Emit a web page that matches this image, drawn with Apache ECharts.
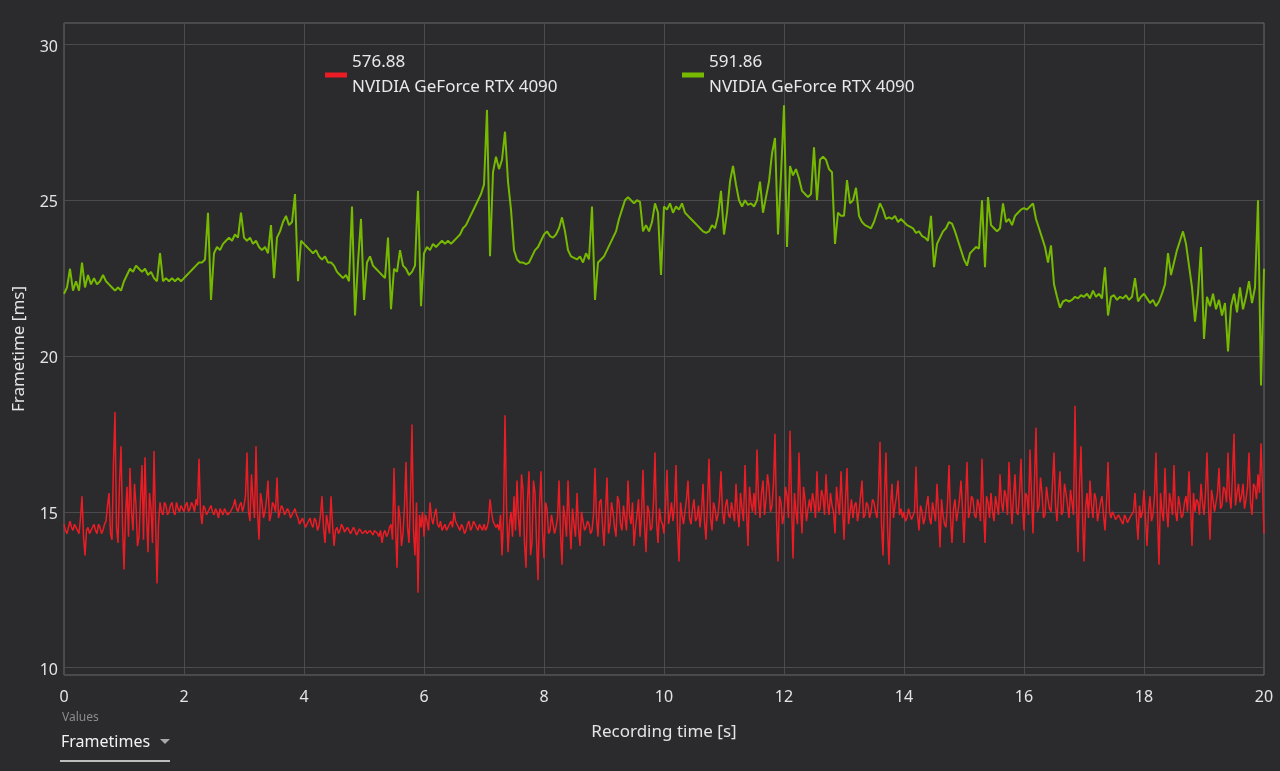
<!DOCTYPE html>
<html>
<head>
<meta charset="utf-8">
<title>Frametimes</title>
<script src="https://cdn.jsdelivr.net/npm/echarts@6.0.0/dist/echarts.min.js"></script>
<style>
  html, body { margin: 0; padding: 0; background: #2b2b2e; }
  #chart { width: 1280px; height: 771px; }
</style>
</head>
<body>
<div id="chart"></div>
<script>
// legend: driver version on top, card name below
const driverVersions = ['576.88', '591.86']
const gpuName = 'NVIDIA GeForce RTX 4090'
const seriesColors = ['#ec1c24', '#76b900']

// sample spacing in seconds of recording time
const timeSteps = [0.025, 0.05]

// frametimes in ms, driver 576.88 (red)
const frametimesA = [
  14.6, 14.4, 14.3, 14.5, 14.7, 14.5, 14.4, 14.6, 14.5, 14.4, 14.3, 14.8, 15.5, 14.2, 13.6, 14.4, 14.5, 14.3, 14.4, 14.5,
  14.6, 14.4, 14.3, 14.6, 14.5, 14.3, 14.4, 14.6, 14.7, 15.2, 15.6, 14.3, 14.1, 16.6, 18.2, 14.5, 14.0, 15.9, 17.1, 14.6,
  13.15, 14.9, 15.8, 14.2, 16.4, 15.0, 14.4, 15.9, 15.2, 13.9, 14.2, 15.4, 16.5, 14.1, 16.75, 14.9, 13.7, 15.6, 15.1, 14.0,
  16.95, 14.8, 12.7, 14.6, 15.3, 15.0, 14.9, 15.3, 15.2, 14.9, 15.0, 15.2, 15.3, 15.0, 14.9, 15.3, 15.1, 15.0, 15.2, 15.1,
  15.0, 15.2, 15.3, 15.0, 15.1, 15.3, 15.2, 15.0, 15.4, 15.2, 16.7, 15.0, 14.6, 15.2, 15.1, 14.9, 15.0, 15.1, 15.2, 15.0,
  14.9, 15.1, 15.0, 14.8, 15.1, 15.0, 14.9, 15.1, 15.0, 14.9, 14.85, 15.0, 15.1, 15.2, 15.4, 15.1, 15.0, 15.2, 15.3, 15.0,
  15.2, 15.5, 16.9, 15.0, 14.7, 16.2, 15.4, 14.8, 17.1, 15.0, 14.1, 15.6, 15.3, 14.8, 15.0, 15.4, 16.0, 14.7, 14.9, 15.3,
  15.2, 15.0, 16.1, 14.8, 15.0, 15.2, 15.1, 14.9, 14.9, 15.1, 15.0, 14.8, 14.85, 15.0, 15.1, 14.9, 14.8, 14.6, 14.7, 14.8,
  14.75, 14.5, 14.6, 14.7, 14.8, 14.6, 14.5, 14.8, 14.7, 14.4, 14.55, 14.9, 15.5, 14.5, 14.0, 14.9, 14.6, 14.3, 15.5, 14.6,
  13.9, 14.4, 14.5, 14.3, 14.4, 14.6, 14.5, 14.35, 14.3, 14.5, 14.45, 14.3, 14.35, 14.5, 14.4, 14.25, 14.3, 14.45, 14.4, 14.3,
  14.35, 14.4, 14.3, 14.25, 14.4, 14.35, 14.25, 14.4, 14.35, 14.3, 14.2, 14.4, 14.0, 14.3, 14.4, 14.2, 14.3, 14.5, 14.6, 14.1,
  16.4, 14.6, 13.2, 15.2, 14.8, 13.9, 14.3, 15.2, 16.6, 14.5, 14.0, 15.5, 17.8, 14.4, 13.6, 15.3, 12.4, 14.9, 14.5, 15.0,
  14.2, 14.9, 14.7, 14.4, 15.3, 14.8, 14.6, 14.9, 15.1, 14.6, 14.5, 14.7, 14.4, 14.5, 14.6, 14.4, 14.5, 14.6, 14.7, 14.5,
  15.0, 14.7, 14.6, 14.5, 14.4, 14.6, 14.5, 14.3, 14.4, 14.6, 14.7, 14.4, 14.5, 14.7, 14.6, 14.5, 14.4, 14.6, 14.5, 14.4,
  14.6, 14.4, 14.5, 14.7, 15.4, 15.0, 14.7, 14.6, 14.5, 14.6, 14.4, 14.9, 13.6, 14.8, 18.1, 15.2, 13.7, 14.6, 15.0, 14.2,
  15.5, 14.4, 16.0, 14.8, 14.2, 16.2, 15.7, 14.0, 13.2, 15.4, 16.3, 13.6, 14.0, 16.0, 15.6, 14.1, 12.8, 15.2, 16.3, 14.4,
  13.5, 15.3, 15.1, 14.3, 14.4, 14.9, 14.6, 14.3, 14.5, 14.8, 16.0, 14.3, 13.3, 15.2, 14.8, 14.2, 16.0, 14.7, 13.8, 15.1,
  14.6, 14.2, 15.6, 14.5, 13.9, 15.0, 14.7, 14.4, 14.5, 14.7, 14.6, 14.3, 14.4, 14.9, 16.4, 14.8, 14.2, 15.3, 15.4, 14.6,
  13.9, 15.0, 16.1, 14.3, 14.6, 15.3, 15.0, 14.5, 14.2, 15.5, 15.3, 14.6, 14.4, 15.2, 14.8, 14.4, 16.0, 14.9, 14.6, 15.3,
  13.9, 14.5, 14.9, 15.4, 14.2, 14.9, 16.35, 14.6, 13.7, 15.2, 15.0, 14.4, 14.5, 15.3, 16.9, 14.7, 14.0, 15.1, 14.7, 14.6,
  14.3, 15.2, 16.35, 14.6, 14.9, 15.3, 14.7, 15.2, 16.5, 14.5, 13.4, 15.3, 14.9, 14.6, 15.0, 15.4, 16.0, 14.8, 14.6, 15.1,
  15.4, 14.7, 14.8, 15.2, 14.5, 15.0, 15.9, 14.7, 14.1, 15.3, 16.7, 14.8, 14.4, 15.3, 15.1, 14.7, 14.9, 15.4, 16.3, 15.0,
  14.6, 15.2, 15.4, 14.9, 14.8, 15.3, 15.0, 14.7, 15.9, 15.0, 14.5, 15.6, 15.1, 14.7, 16.5, 15.0, 13.9, 15.8, 15.3, 15.0,
  15.6, 14.9, 17.0, 15.4, 14.8, 15.6, 16.0, 14.9, 15.4, 16.2, 15.8, 15.0, 15.2, 15.9, 17.5, 14.8, 13.4, 15.5, 15.3, 14.6,
  14.9, 15.8, 15.5, 14.8, 17.6, 15.4, 13.5, 15.6, 15.0, 14.6, 16.9, 15.2, 14.3, 15.8, 15.4, 14.7, 15.1, 15.4, 15.0, 15.6,
  15.3, 14.8, 16.3, 15.0, 15.1, 15.7, 15.5, 14.9, 16.2, 15.3, 14.9, 15.6, 15.2, 15.0, 14.3, 15.8, 15.3, 14.9, 16.3, 15.2,
  14.1, 15.4, 16.4, 14.6, 15.0, 15.4, 14.8, 15.2, 15.3, 14.7, 15.0, 15.5, 16.0, 14.8, 14.9, 15.3, 15.2, 14.8, 15.0, 15.4,
  15.3, 15.0, 14.8, 15.6, 17.25, 14.6, 13.6, 15.5, 16.9, 14.5, 13.3, 15.2, 15.9, 14.8, 15.2, 15.5, 16.0, 14.9, 15.1, 14.8,
  15.0, 14.7, 14.8, 15.1, 14.9, 14.75, 14.7, 15.0, 16.45, 14.9, 14.4, 15.2, 15.0, 14.6, 14.8, 15.2, 15.5, 14.8, 14.6, 15.3,
  15.0, 14.7, 15.9, 15.0, 13.85, 15.4, 14.9, 14.6, 14.5, 15.3, 16.5, 14.8, 14.0, 15.1, 15.4, 14.7, 15.0, 15.4, 16.0, 15.1,
  14.0, 15.3, 16.6, 14.8, 15.0, 15.5, 15.4, 14.9, 14.8, 15.4, 15.2, 14.7, 16.7, 15.1, 14.0, 15.5, 15.3, 14.8, 15.6, 15.0,
  14.7, 15.5, 15.2, 14.9, 16.2, 15.3, 15.0, 15.7, 15.5, 14.9, 16.6, 15.4, 14.6, 15.5, 16.2, 15.0, 14.9, 15.6, 16.7, 15.2,
  14.4, 15.6, 15.5, 14.9, 17.0, 15.5, 14.3, 16.0, 17.7, 15.0, 15.2, 16.1, 15.6, 14.8, 14.9, 15.8, 15.4, 15.1, 15.0, 15.9,
  16.9, 15.2, 14.7, 15.6, 16.3, 14.9, 15.0, 15.9, 15.6, 15.2, 14.8, 15.7, 15.3, 14.9, 18.4, 15.3, 13.7, 15.9, 17.1, 14.9,
  13.4, 15.1, 15.6, 14.8, 16.0, 15.2, 14.8, 15.6, 15.4, 14.7, 15.0, 15.3, 15.5, 14.9, 14.4, 15.3, 16.6, 15.0, 14.8, 15.0,
  14.9, 14.75, 14.7, 14.9, 14.85, 14.7, 14.6, 14.9, 14.8, 14.65, 14.7, 14.85, 14.9, 15.0, 15.6, 14.8, 14.1, 15.2, 14.8, 15.0,
  15.7, 14.8, 13.9, 15.0, 15.5, 14.7, 14.9, 15.5, 16.9, 14.9, 13.3, 15.6, 15.0, 14.7, 16.4, 15.1, 14.5, 15.6, 15.3, 14.9,
  16.5, 15.0, 14.7, 15.5, 15.2, 14.8, 14.9, 15.3, 15.5, 15.0, 16.3, 15.2, 13.9, 15.6, 15.0, 15.4, 15.3, 14.9, 15.9, 15.3,
  14.9, 15.6, 16.9, 15.2, 14.1, 15.7, 15.4, 15.0, 15.0, 15.6, 16.4, 15.1, 15.2, 15.8, 15.7, 15.3, 16.9, 15.5, 15.1, 16.2,
  17.5, 15.2, 15.6, 15.9, 15.3, 15.5, 15.9, 15.1, 15.4, 15.8, 16.9, 15.3, 14.9, 15.9, 15.8, 15.4, 16.2, 15.6, 17.2, 15.8,
  14.3
]

// frametimes in ms, driver 591.86 (green)
const frametimesB = [
  22.0, 22.2, 22.8, 22.1, 22.4, 22.1, 23.0, 22.2, 22.6, 22.3, 22.5, 22.3, 22.4, 22.6, 22.4, 22.3, 22.2, 22.1, 22.2, 22.1,
  22.4, 22.6, 22.8, 22.7, 22.9, 22.8, 22.7, 22.8, 22.6, 22.7, 22.5, 22.4, 23.3, 22.4, 22.5, 22.4, 22.5, 22.4, 22.5, 22.4,
  22.5, 22.6, 22.7, 22.8, 22.9, 23.0, 23.0, 23.1, 24.6, 21.8, 23.3, 23.5, 23.4, 23.6, 23.7, 23.8, 23.7, 23.9, 23.8, 24.6,
  23.8, 23.7, 23.8, 23.6, 23.7, 23.5, 23.4, 23.5, 23.3, 24.2, 22.5, 23.8, 24.0, 24.3, 24.5, 24.2, 24.3, 25.2, 22.4, 23.7,
  23.6, 23.5, 23.4, 23.3, 23.4, 23.2, 23.1, 23.2, 23.0, 23.0, 22.9, 22.7, 22.6, 22.5, 22.6, 22.4, 24.8, 21.3, 23.0, 24.4,
  21.8, 23.0, 23.2, 22.9, 22.8, 22.7, 22.6, 22.5, 23.8, 21.5, 22.8, 22.7, 23.4, 22.9, 22.8, 22.6, 22.7, 22.9, 25.3, 21.6,
  23.3, 23.5, 23.4, 23.6, 23.5, 23.6, 23.7, 23.6, 23.7, 23.6, 23.7, 23.8, 23.9, 24.1, 24.2, 24.4, 24.6, 24.8, 25.0, 25.2,
  25.5, 27.9, 23.2, 25.9, 26.4, 26.0, 26.3, 27.2, 25.6, 24.7, 23.4, 23.1, 23.0, 23.0, 22.95, 23.0, 23.2, 23.4, 23.5, 23.7,
  23.9, 24.0, 23.85, 23.8, 23.9, 24.1, 24.45, 24.0, 23.4, 23.2, 23.15, 23.1, 23.2, 23.0, 23.3, 23.1, 24.8, 21.8, 23.0, 23.1,
  23.2, 23.4, 23.6, 23.8, 24.0, 24.4, 24.7, 25.0, 25.1, 25.0, 24.9, 25.0, 24.95, 24.0, 24.2, 24.0, 24.3, 24.9, 24.6, 22.6,
  24.8, 24.7, 24.9, 24.6, 24.8, 24.7, 24.9, 24.6, 24.5, 24.4, 24.3, 24.2, 24.1, 24.0, 23.95, 24.0, 24.2, 24.1, 24.5, 25.3,
  23.9, 24.6, 25.6, 26.1, 25.5, 25.0, 24.8, 25.0, 24.85, 24.9, 24.8, 25.0, 25.6, 24.6, 25.1, 25.6, 26.5, 27.0, 23.9, 25.8,
  28.05, 23.5, 26.1, 25.8, 26.0, 25.7, 25.3, 25.2, 25.1, 25.2, 26.7, 25.0, 26.3, 26.4, 26.3, 26.0, 25.9, 23.6, 24.6, 24.5,
  24.5, 25.65, 24.9, 25.0, 25.4, 24.5, 24.3, 24.2, 24.15, 24.1, 24.3, 24.6, 24.9, 24.7, 24.4, 24.45, 24.4, 24.5, 24.3, 24.4,
  24.3, 24.2, 24.15, 24.1, 23.95, 24.0, 23.85, 23.8, 23.7, 24.5, 22.85, 23.6, 23.8, 24.0, 24.1, 24.3, 24.25, 24.0, 23.7, 23.4,
  23.1, 22.9, 23.3, 23.4, 23.5, 23.45, 25.0, 22.85, 25.1, 24.2, 24.1, 24.0, 24.1, 24.9, 24.3, 24.4, 24.2, 24.5, 24.6, 24.7,
  24.75, 24.7, 24.8, 24.9, 24.4, 24.1, 23.8, 23.5, 23.0, 23.55, 22.3, 21.9, 21.55, 21.75, 21.8, 21.75, 21.8, 21.9, 21.85, 21.95,
  21.9, 22.0, 21.85, 22.1, 21.9, 22.0, 21.85, 22.85, 21.3, 21.9, 21.95, 21.8, 21.9, 21.85, 21.95, 21.8, 21.9, 22.5, 21.75, 21.9,
  22.0, 21.85, 21.7, 21.8, 21.6, 21.75, 22.0, 22.3, 23.3, 22.6, 23.0, 23.4, 23.7, 24.0, 23.6, 22.9, 22.2, 21.1, 22.0, 23.5,
  20.55, 21.9, 21.6, 22.0, 21.5, 21.8, 21.3, 21.7, 20.15, 21.6, 22.0, 21.4, 22.2, 21.5, 21.9, 22.4, 21.7, 22.2, 25.0, 19.05,
  22.8
]

function toPoints(values, step) {
  return values.map((v, i) => [+(i * step).toFixed(3), v])
}

const font = 'Noto Sans'
const labelColor = '#e4e4e4'
const gridColor = '#4b4b4e'

const chart = echarts.init(document.getElementById('chart'))
chart.setOption({
  backgroundColor: '#2b2b2e',
  animation: false,
  textStyle: { fontFamily: font },
  grid: [
    // outer frame, the vertical lines run through it
    { left: 64, right: 16, top: 23, bottom: 96, show: true, borderColor: '#6a6a6d', borderWidth: 1 },
    // value area, 10..30 ms
    { left: 64, right: 16, top: 44.5, bottom: 103.5 }
  ],
  legend: driverVersions.map((name, i) => ({
    data: [name],
    left: [320, 677][i],
    top: 45,
    icon: 'rect',
    itemWidth: 22,
    itemHeight: 5,
    selectedMode: false,
    formatter: n => n + '\n' + gpuName,
    textStyle: { color: '#e8e8e8', fontSize: 17, lineHeight: 25, fontFamily: font }
  })),
  xAxis: [
    {
      gridIndex: 0,
      type: 'value',
      min: 0,
      max: 20,
      interval: 2,
      name: 'Recording time [s]',
      nameLocation: 'middle',
      nameGap: 49,
      nameTextStyle: { color: labelColor, fontSize: 17, fontFamily: font },
      axisLine: { show: false },
      axisTick: { show: false },
      axisLabel: { color: labelColor, fontSize: 16, margin: 14, fontFamily: font },
      splitLine: { lineStyle: { color: gridColor, width: 1 } }
    },
    { gridIndex: 1, type: 'value', min: 0, max: 20, show: false }
  ],
  yAxis: [
    {
      gridIndex: 0,
      type: 'value',
      name: 'Frametime [ms]',
      nameLocation: 'middle',
      nameGap: 36,
      nameTextStyle: { color: labelColor, fontSize: 17, fontFamily: font },
      axisLine: { show: false },
      axisTick: { show: false },
      axisLabel: { show: false },
      splitLine: { show: false }
    },
    {
      gridIndex: 1,
      type: 'value',
      min: 10,
      max: 30,
      interval: 5,
      axisLine: { show: false },
      axisTick: { show: false },
      // labels sit a little below their grid line
      axisLabel: { color: labelColor, fontSize: 16, margin: 6, verticalAlign: 'top', lineHeight: 5, fontFamily: font },
      splitLine: { lineStyle: { color: gridColor, width: 1 } }
    }
  ],
  series: [frametimesA, frametimesB].map((values, i) => ({
    type: 'line',
    name: driverVersions[i],
    xAxisIndex: 1,
    yAxisIndex: 1,
    data: toPoints(values, timeSteps[i]),
    symbol: 'none',
    color: seriesColors[i],
    lineStyle: { color: seriesColors[i], width: [1.5, 2][i] }
  })),
  graphic: [
    { type: 'text', left: 62, top: 712, style: { text: 'Values', fill: '#8c8c8c', fontSize: 12, fontFamily: font } },
    { type: 'text', left: 61, top: 734, style: { text: 'Frametimes', fill: '#f2f2f2', fontSize: 16, fontFamily: font } },
    { type: 'polygon', shape: { points: [[160, 739], [170, 739], [165, 744]] }, style: { fill: '#a8a8a8' } },
    { type: 'line', shape: { x1: 60, y1: 761, x2: 170, y2: 761 }, style: { stroke: '#bdbdbd', lineWidth: 2 } }
  ]
})
</script>
</body>
</html>
